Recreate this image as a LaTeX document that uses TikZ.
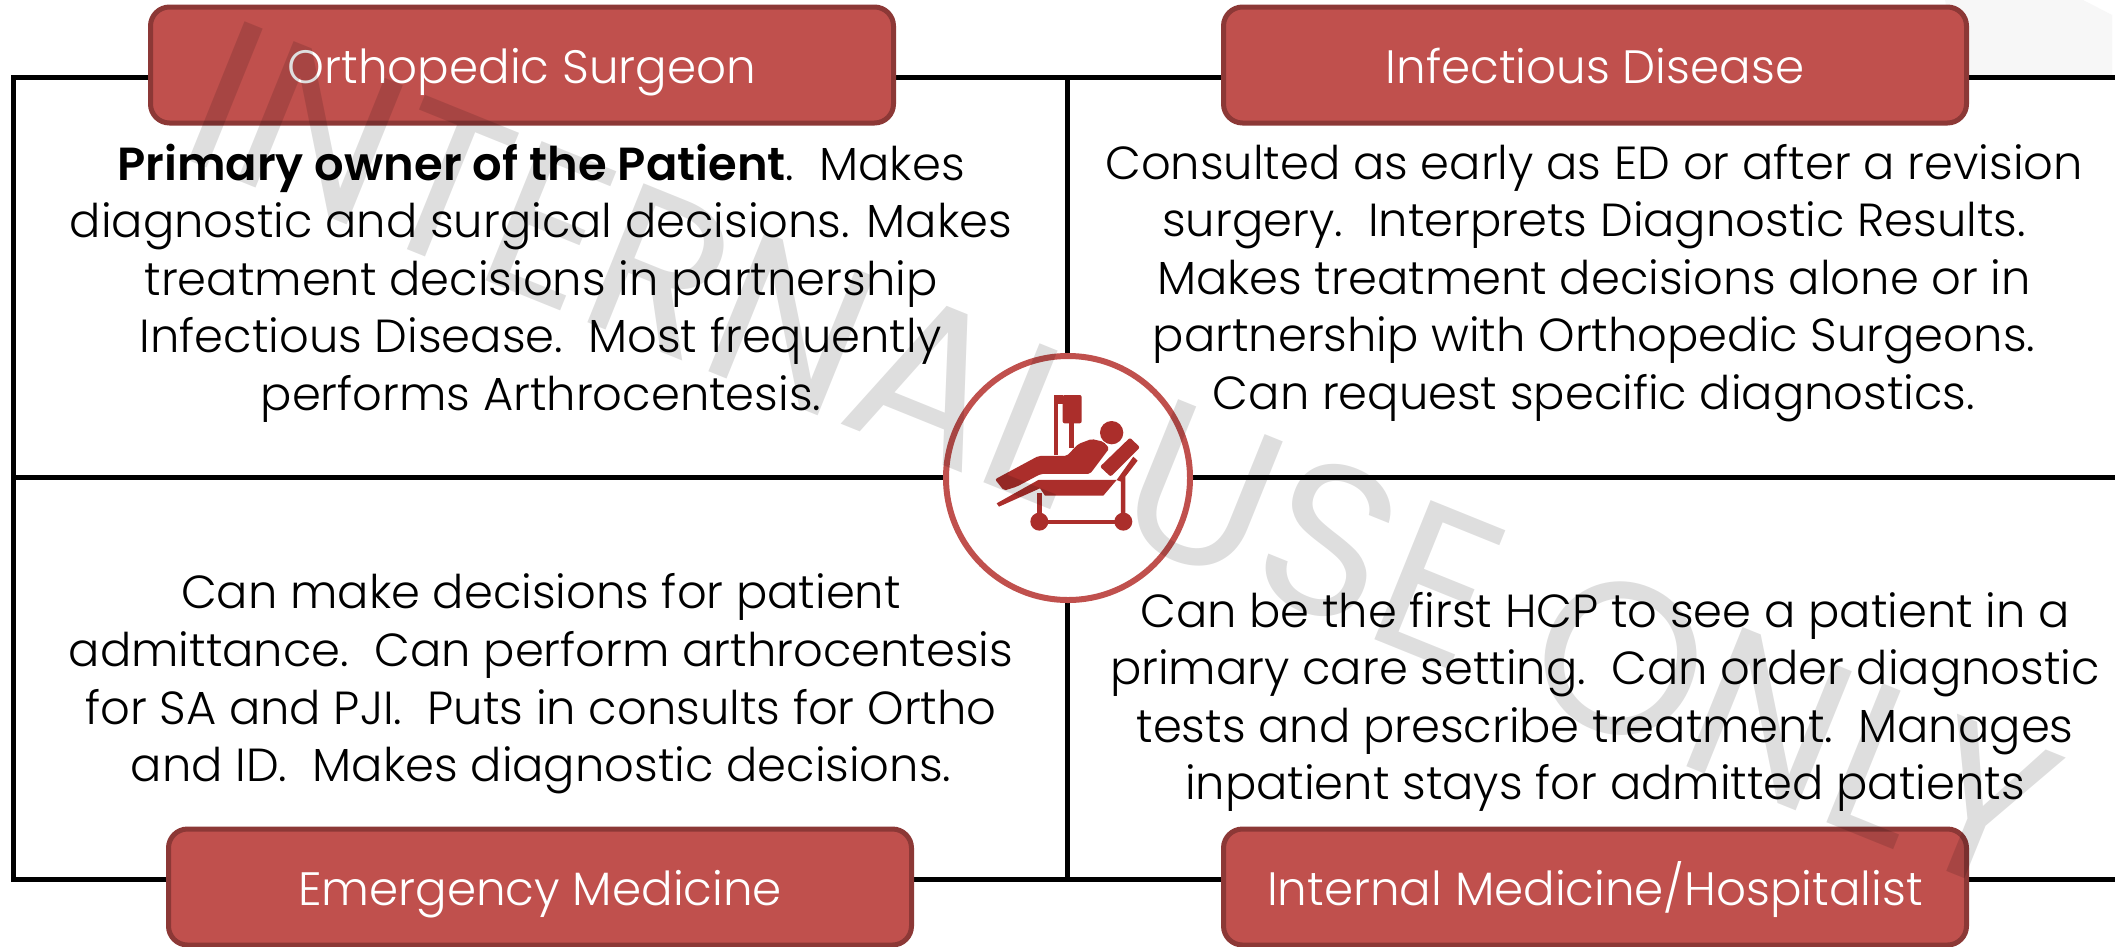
\documentclass[tikz,border=0pt]{standalone}
\usepackage{fontspec}
\setmainfont{Poppins}[UprightFont=* Light,BoldFont=* SemiBold]
\newfontfamily\stampfont{Poppins}
\usetikzlibrary{positioning}
\definecolor{boxred}{HTML}{C0504D}
\definecolor{boxedge}{HTML}{8C3836}
\definecolor{iconred}{HTML}{AB2E2B}
\definecolor{ringred}{HTML}{C0504D}
\begin{document}
\begin{tikzpicture}[x=1pt,y=-1pt,
role/.style={draw=boxedge,fill=boxred,line width=5pt,rounded corners=19pt,
    minimum width=743pt,minimum height=116pt,text=white,text height=48pt,text depth=11pt,
    font=\fontsize{46.8}{50}\selectfont},
duty/.style={align=center,text=black,font=\fontsize{46.4}{57.6}\selectfont},
grid/.style={black,line width=5pt},
stamp/.style={text=black,text opacity=.13,rotate=-22,font=\stampfont\fontsize{215}{230}\selectfont}]
\useasboundingbox (0,0) rectangle (2115,946);
\fill[white] (0,0) rectangle (2115,946);
\fill[black!3] (1945,0) -- (2083,0) -- (2112,15) -- (2112,75) -- (1960,75) -- cycle;

% frame
\coordinate (tl) at (13,77);
\coordinate (tm) at (1067,77);
\coordinate (tr) at (2115,77);
\coordinate (ml) at (13,477);
\coordinate (mr) at (2115,477);
\coordinate (bl) at (13,879);
\coordinate (bm) at (1067,879);
\coordinate (br) at (2115,879);
\draw[grid,line cap=rect] (tr) -- (tl) -- (bl) -- (br);
\draw[grid] (tm) -- (bm);
\draw[grid] (ml) -- (mr);

% centre ring and patient
\node (ring) [circle,draw=ringred,fill=white,line width=6pt,minimum size=244pt,inner sep=0pt] at (1068,478) {};
\begin{scope}[shift={(900,340)},x=.3333pt,y=-.3333pt,iconred]
\fill (461,165) rectangle (473,345);
\fill (461,165) rectangle (490,178);
\fill (470,178) rectangle (490,192);
\fill[rounded corners=2pt] (488,165) rectangle (545,250);
\fill (508,250) rectangle (523,325);
\fill (635,278) circle (35);
\fill[rounded corners=2pt] (285,418) -- (415,348) -- (500,348) -- (535,312) -- (575,297)
    -- (610,305) -- (628,325) -- (570,402) -- (422,402) -- (350,440) -- (312,452) -- cycle;
\fill[rounded corners=2pt] (600,380) -- (690,293) -- (720,322) -- (632,410) -- cycle;
\fill (290,490) -- (415,420) -- (650,420) -- (610,467) -- (435,467) -- (420,445) -- (297,500) -- cycle;
\fill (650,420) -- (700,350) -- (713,362) -- (676,410) -- (676,545) -- (663,545) -- (663,425) -- cycle;
\fill (412,460) rectangle (426,545);
\fill (418,539) rectangle (670,551);
\fill (418,545) circle (27);
\fill (670,545) circle (27);
\end{scope}

% role boxes
\node (ortho) [role] at (522,65) {Orthopedic Surgeon};
\node (infect) [role] at (1595,65) {Infectious Disease};
\node (emerg) [role] at (540,887) {Emergency Medicine};
\node (intern) [role] at (1595,887) {Internal Medicine/Hospitalist};

% duties
\node (orthotxt) [duty] at (541,283) {\textbf{Primary owner of the Patient}.\ \ Makes\\diagnostic and surgical decisions. Makes\\treatment decisions in partnership\\Infectious Disease.\ \ Most frequently\\performs Arthrocentesis.};
\node (infecttxt) [duty] at (1594,283) {Consulted as early as ED or after a revision\\surgery.\ \ Interprets Diagnostic Results.\\Makes treatment decisions alone or in\\partnership with Orthopedic Surgeons.\\Can request specific diagnostics.};
\node (emergtxt) [duty] at (541,684) {Can make decisions for patient\\admittance.\ \ Can perform arthrocentesis\\for SA and PJI.\ \ Puts in consults for Ortho\\and ID.\ \ Makes diagnostic decisions.};
\node (interntxt) [duty] at (1605,702) {Can be the first HCP to see a patient in a\\primary care setting.\ \ Can order diagnostic\\tests and prescribe treatment.\ \ Manages\\inpatient stays for admitted patients};

% watermark
\node (stamp) [stamp] at (1122,457) {INTERNAL USE ONLY};
\end{tikzpicture}
\end{document}
